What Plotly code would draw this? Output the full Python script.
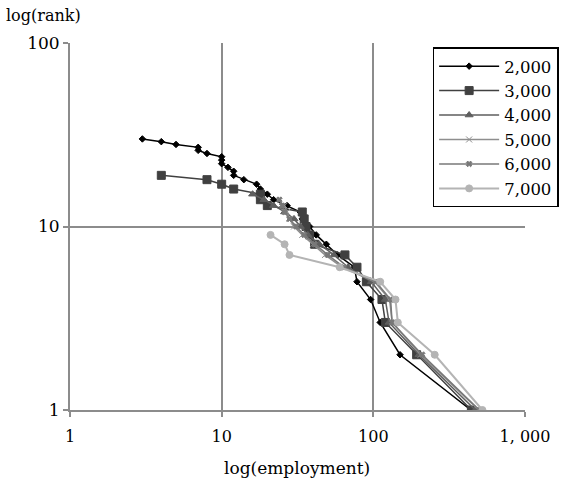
import plotly.graph_objects as go

ranks = [1, 2, 3, 4, 5, 6, 7, 8, 9, 10, 11, 12, 13, 14, 15,
         16, 17, 18, 19, 20, 21, 22, 23, 24, 25, 26, 27, 28, 29, 30]

series_names = ["2,000", "3,000", "4,000", "5,000", "6,000", "7,000"]

emp_2000 = [440, 150, 111, 96, 78, 75, 58, 49, 42, 38, 34, 33, 27, 22, 20,
            18, 17, 14, 12, 12, 11, 10, 10, 10, 8, 7, 7, 5, 4, 3]
emp_3000 = [443, 193, 120, 114, 90, 78, 65, 41, 38, 36, 35, 34, 20, 18, 18,
            12, 10, 8, 4]
emp_4000 = [470, 200, 127, 120, 97, 68, 55, 44, 37, 33, 30, 26, 22, 19, 16]
emp_5000 = [495, 205, 133, 128, 102, 62, 48, 40, 34, 30, 28, 27, 26]
emp_6000 = [500, 210, 133, 130, 104, 64, 50, 41, 35, 31, 28, 26, 25, 24]
emp_7000 = [524, 254, 145, 140, 111, 60, 28, 26, 21]

x_tickvals = [1, 10, 100, 1000]
x_ticktext = ["1", "10", "100", "1, 000"]
y_tickvals = [1, 10, 100]
y_ticktext = ["1", "10", "100"]

all_emp = [emp_2000, emp_3000, emp_4000, emp_5000, emp_6000, emp_7000]
colors = ["#000000", "#404040", "#5e5e5e", "#8e8e8e", "#787878", "#b4b4b4"]
symbols = ["diamond", "square", "triangle-up", "x-thin-open", "x", "circle"]
sizes = [5, 8, 7, 6, 5, 7]
widths = [1.5, 1.5, 1.5, 1.5, 1.5, 2]

FONT = "DejaVu Serif, Liberation Serif, serif"
GRID = "#8c8c8c"

fig = go.Figure()
for name, emp, c, s, sz, w in zip(series_names, all_emp, colors, symbols, sizes, widths):
    fig.add_trace(go.Scatter(
        x=emp, y=ranks[:len(emp)], name=name, mode="lines+markers",
        line=dict(color=c, width=w),
        marker=dict(symbol=s, size=sz, color=c, line=dict(color=c, width=1)),
    ))

fig.update_layout(
    width=571, height=493,
    margin=dict(l=70, r=41.5, t=43, b=83),
    paper_bgcolor="white", plot_bgcolor="white",
    font=dict(family=FONT, size=16, color="black"),
    showlegend=True,
    legend=dict(
        x=0.797, y=0.988, xanchor="left", yanchor="top",
        bgcolor="white", bordercolor="black", borderwidth=1.5,
        font=dict(family=FONT, size=16.5, color="black"),
        itemwidth=60, tracegroupgap=0,
    ),
    xaxis=dict(
        type="log", range=[0, 3],
        tickvals=x_tickvals, ticktext=x_ticktext,
        showgrid=True, gridcolor=GRID, gridwidth=2,
        showline=True, linecolor=GRID, linewidth=2,
        ticks="outside", ticklen=5, tickcolor=GRID, tickwidth=2,
        ticklabelstandoff=6,
        zeroline=False, tickfont=dict(family=FONT, size=16),
    ),
    yaxis=dict(
        type="log", range=[0, 2],
        tickvals=y_tickvals, ticktext=y_ticktext,
        showgrid=True, gridcolor=GRID, gridwidth=2,
        showline=True, linecolor=GRID, linewidth=2,
        ticks="outside", ticklen=5, tickcolor=GRID, tickwidth=2,
        zeroline=False, tickfont=dict(family=FONT, size=17),
    ),
    annotations=[
        dict(text="log(employment)", xref="paper", yref="paper", x=0.498, y=-0.158,
             xanchor="center", yanchor="middle", showarrow=False,
             font=dict(family=FONT, size=17)),
        dict(text="log(rank)", xref="paper", yref="paper", x=-0.144, y=1.076,
             xanchor="left", yanchor="middle", showarrow=False,
             font=dict(family=FONT, size=16)),
    ],
)

fig.write_html("out.html", config={"displayModeBar": False},
               post_script="document.body.style.margin='0';")
